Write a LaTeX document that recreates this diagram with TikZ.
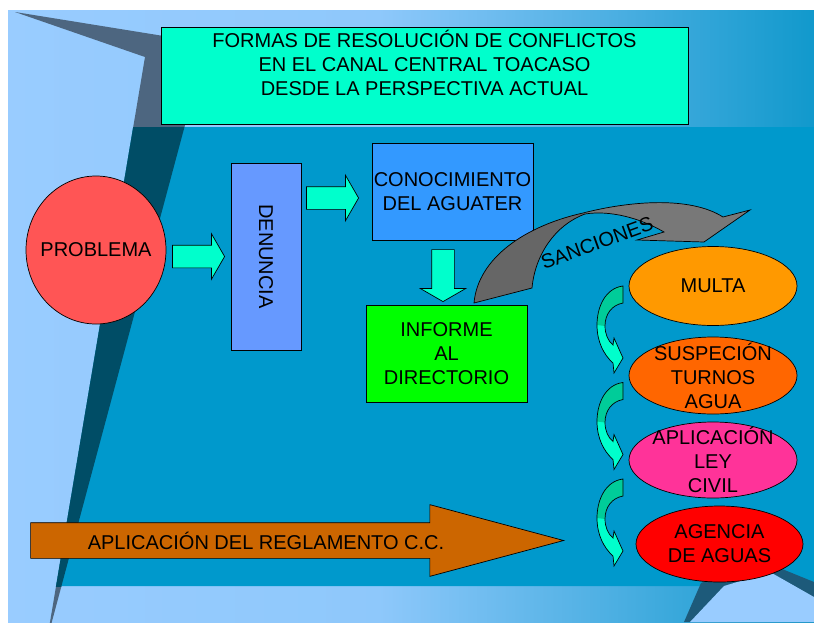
\documentclass[tikz,border=0pt]{standalone}
\usepackage{fontspec}
\setmainfont{Liberation Sans}
\usetikzlibrary{shapes.geometric,shapes.arrows}

\definecolor{bglight}{HTML}{99CCFF}
\definecolor{bgright}{HTML}{1199CC}
\definecolor{bgmain}{HTML}{0099CC}
\definecolor{stripe}{HTML}{004D66}
\definecolor{wedge}{HTML}{4D6680}
\definecolor{cornerdark}{HTML}{1D5A7A}
\colorlet{bgmidA}{bglight!92!bgright}
\colorlet{bgmidB}{bglight!45!bgright}
\definecolor{titlefill}{HTML}{00FFCC}
\definecolor{probfill}{HTML}{FF5555}
\definecolor{denfill}{HTML}{6699FF}
\definecolor{conofill}{HTML}{3399FF}
\definecolor{infofill}{HTML}{00FF00}
\definecolor{multafill}{HTML}{FF9900}
\definecolor{suspfill}{HTML}{FF6600}
\definecolor{aplifill}{HTML}{FF3399}
\definecolor{agenfill}{HTML}{FF0000}
\definecolor{reglfill}{HTML}{CC6600}
\definecolor{aquafill}{HTML}{00FFCC}
\definecolor{curvedark}{HTML}{00CC99}
\definecolor{sancdark}{HTML}{666666}
\definecolor{sanclight}{HTML}{787878}

\pgfdeclarehorizontalshading{slideband}{100bp}{color(0bp)=(bglight); color(25bp)=(bglight); color(48bp)=(bgmidA); color(62bp)=(bgmidB); color(75bp)=(bgright); color(100bp)=(bgright)}

\begin{document}
\begin{tikzpicture}[x=1pt, y=-1pt,
    font=\fontsize{20}{24}\selectfont,
    box/.style={rectangle, draw=black, line width=0.7pt, inner sep=0pt, align=center},
    oval/.style={ellipse, draw=black, line width=0.7pt, inner sep=0pt, align=center, minimum width=168pt},
    fatarrow/.style={single arrow, draw=black, line width=0.7pt, fill=aquafill, inner xsep=0pt, inner ysep=11pt, minimum width=45pt, minimum height=52pt, single arrow head extend=11.5pt, single arrow tip angle=120, anchor=tip},
    edge/.style={draw=black, line width=0.7pt}
]
\useasboundingbox (0,0) rectangle (814,622);
\fill[white] (0,0) rectangle (814,622);
\shade[shading=slideband] (8,10) rectangle (814,622);
\begin{scope}
  \clip (8,10) rectangle (814,622);
  \fill[wedge] (15,12) -- (207,43) -- (47,640) -- (145,57) -- cycle;
  \fill[bgmain] (133.2,127) -- (814,127) -- (814,586) -- (56.1,586) -- cycle;
  \clip (0,127) rectangle (814,586);
  \fill[stripe] (15,12) -- (207,43) -- (47,640) -- (145,57) -- cycle;
\end{scope}
\fill[cornerdark] (684,622) -- (701,583) -- (760,560) -- (814,582) -- (814,622) -- cycle;
\fill[bglight] (690,622) -- (724,586) -- (770,572) -- (814,597) -- (814,622) -- cycle;

\node[box, fill=titlefill, minimum width=527pt, minimum height=97pt,
  label={[anchor=north, yshift=-3pt, inner sep=0pt, align=center]north:FORMAS DE RESOLUCIÓN DE CONFLICTOS\\EN EL CANAL CENTRAL TOACASO\\DESDE LA PERSPECTIVA ACTUAL}] (titulo) at (424.5,75.5) {};

\node[oval, fill=probfill, minimum width=140pt, minimum height=148pt, label={center:PROBLEMA}] (problema) at (96,250) {};
\node[box, fill=denfill, minimum width=70pt, minimum height=187pt, label={[rotate=-90]center:DENUNCIA}] (denuncia) at (266,256.5) {};
\node[box, fill=conofill, minimum width=161pt, minimum height=97pt] (conocimiento) at (452.5,191.5) {CONOCIMIENTO\\DEL AGUATER};
\node[box, fill=infofill, minimum width=161pt, minimum height=97pt] (informe) at (446.5,353.5) {INFORME\\AL\\DIRECTORIO};

\node[fatarrow] (flecha1) at (225,256.5) {};
\node[fatarrow] (flecha2) at (359,198) {};
\node[fatarrow, rotate=-90] (flecha3) at (443,302) {};

\fill[sanclight] (474,303) .. controls (478,258) and (525,226) .. (583,213) .. controls (630,201) and (690,196) .. (723,217)
  -- (750,210) -- (704,242) -- (637,240) -- (664,232) .. controls (640,218) and (610,210) .. (585,214)
  .. controls (555,225) and (535,255) .. (532,288) -- cycle;
\fill[sancdark] (474,303) .. controls (478,258) and (525,226) .. (583,213) -- (585,214)
  .. controls (555,225) and (535,255) .. (532,288) -- cycle;
\draw[edge] (474,303) .. controls (478,258) and (525,226) .. (583,213) .. controls (630,201) and (690,196) .. (723,217)
  -- (750,210) -- (704,242) -- (637,240) -- (664,232) .. controls (640,218) and (610,210) .. (585,214)
  .. controls (555,225) and (535,255) .. (532,288) -- cycle;
\node[rotate=20] (sanciones) at (597,243) {SANCIONES};

\node[oval, fill=multafill, minimum height=79pt] (multa) at (713,286) {MULTA};
\node[oval, fill=suspfill, minimum height=77pt, label={[align=center]center:SUSPECIÓN\\TURNOS\\AGUA}] (suspension) at (713,375.5) {};
\node[oval, fill=aplifill, minimum height=76pt, label={[align=center]center:APLICACIÓN\\LEY\\CIVIL}] (leycivil) at (713,460) {};
\node[oval, fill=agenfill, minimum width=167pt, minimum height=76pt] (agencia) at (719.5,544) {AGENCIA\\DE AGUAS};

\foreach \dy in {0,96.5,193}{
  \begin{scope}[shift={(0,\dy)}]
    \fill[aquafill] (623,286) .. controls (606,288) and (597,306) .. (597,325) .. controls (597,342) and (604,355) .. (613,363)
      -- (614,373) -- (623,358) -- (614,338) -- (613,345) .. controls (608,341) and (605,334) .. (605,326)
      .. controls (605,314) and (612,305) .. (623,303) -- cycle;
    \fill[curvedark] (623,286) .. controls (606,288) and (597,306) .. (597,325) -- (605,326)
      .. controls (605,314) and (612,305) .. (623,303) -- cycle;
    \draw[edge] (623,286) .. controls (606,288) and (597,306) .. (597,325) .. controls (597,342) and (604,355) .. (613,363)
      -- (614,373) -- (623,358) -- (614,338) -- (613,345) .. controls (608,341) and (605,334) .. (605,326)
      .. controls (605,314) and (612,305) .. (623,303) -- cycle;
  \end{scope}
}

\node[single arrow, draw=black, line width=0.7pt, fill=reglfill, inner xsep=0pt, inner ysep=17.5pt, minimum width=71pt, minimum height=533pt, single arrow head extend=18pt, single arrow tip angle=30, anchor=tip] (reglamento) at (565,540.5) {};
\node (reglamentotexto) at (266,540.5) {APLICACIÓN DEL REGLAMENTO C.C.};
\end{tikzpicture}
\end{document}
